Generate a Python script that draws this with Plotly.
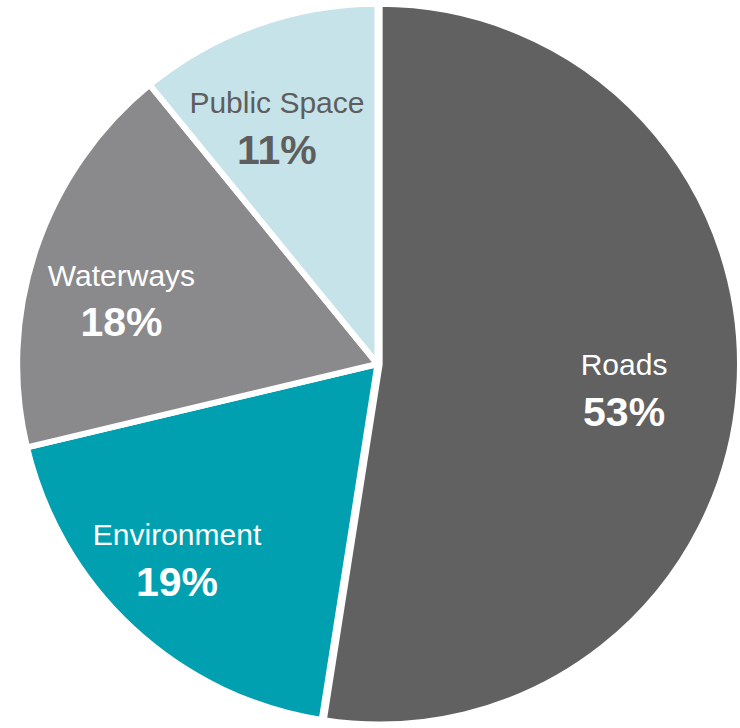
import plotly.graph_objects as go

categories = ["Roads", "Environment", "Waterways", "Public Space"]
shares = [53, 19, 18, 11]
slice_colors = ["#616161", "#00a0b1", "#8a8a8c", "#c6e3e9"]
text_colors = ["#ffffff", "#ffffff", "#ffffff", "#5e5e5e"]
pulls = [0.006, 0, 0, 0]
# inner radius, angular nudge and relative size of the transparent ring carrying each label
label_holes = [0.365, 0.561, 0.462, 0.36]
label_turns = [1.9, 2.6, -5.1, -3.6]
label_sizes = [1.0, 1.0, 1.0, 0.946]

domain = dict(x=[0, 1], y=[0, 1])
label_template = (
    "<span style='font-size:30px'>%{label}</span><br>"
    "<span style='font-size:41px'><b>%{value}%</b></span>"
)

# the slices
fig = go.Figure(
    go.Pie(
        labels=categories,
        values=shares,
        sort=False,
        direction="clockwise",
        rotation=0,
        pull=pulls,
        domain=domain,
        marker=dict(colors=slice_colors, line=dict(color="#ffffff", width=6)),
        textinfo="none",
        hoverinfo="label+value",
        showlegend=False,
    )
)

# the same slices as transparent rings, one per label
for i, name in enumerate(categories):
    templates = [label_template if j == i else "" for j in range(len(categories))]
    inset = (1 - label_sizes[i]) / 2
    fig.add_trace(
        go.Pie(
            labels=categories,
            values=shares,
            sort=False,
            direction="clockwise",
            rotation=label_turns[i],
            pull=pulls,
            domain=dict(x=[inset, 1 - inset], y=[0, 1]),
            hole=label_holes[i],
            marker=dict(colors=["rgba(0,0,0,0)"] * len(categories), line=dict(width=0)),
            textposition="inside",
            insidetextorientation="horizontal",
            texttemplate=templates,
            textfont=dict(family="Liberation Sans, Arial, sans-serif", size=39, color=text_colors),
            hoverinfo="skip",
            showlegend=False,
        )
    )

fig.update_layout(
    width=740,
    height=728,
    margin=dict(l=15, r=0, t=0, b=0),
    paper_bgcolor="#ffffff",
    plot_bgcolor="#ffffff",
    uniformtext=dict(mode="show", minsize=39),
)

fig.write_html(
    "out.html",
    config={"displayModeBar": False},
    post_script="document.body.style.margin='0';",
)
